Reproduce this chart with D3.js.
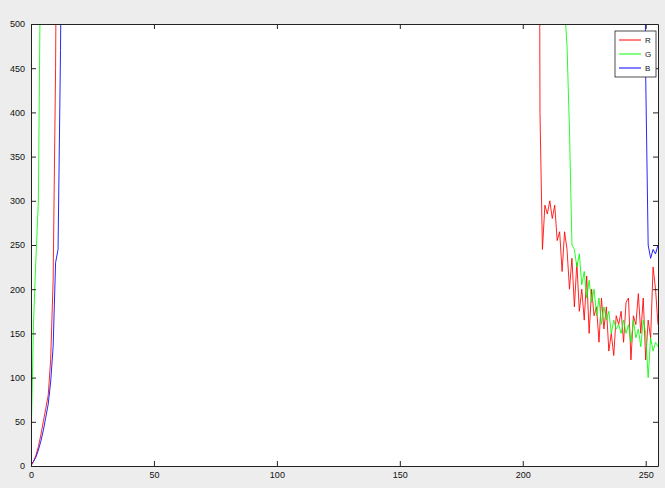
<!DOCTYPE html>
<html>
<head>
<meta charset="utf-8">
<script src="https://cdn.jsdelivr.net/npm/d3@7"></script>
<style>
  html, body { margin: 0; padding: 0; background: #ededed; }
  svg { display: block; }
  text { font-family: "Liberation Sans", Arial, sans-serif; }
</style>
</head>
<body>
<svg id="chart" width="665" height="488"></svg>
<script>
// Per-channel histogram counts (intensity bin -> pixel count).
// Only the low and high ends fall inside the 0-500 window; the middle bins
// are far above the top of the axis and are clipped away.
const binsR = [0,1,2,3,4,5,6,7,8,9,10,11,
  206,207,208,209,210,211,212,213,214,215,216,217,218,219,220,221,222,223,224,225,
  226,227,228,229,230,231,232,233,234,235,236,237,238,239,240,241,242,243,244,245,
  246,247,248,249,250,251,252,253,254,255];
const countsR = [0,5,12,22,35,50,65,80,120,210,450,900,
  1500,400,245,295,285,300,280,295,255,265,220,265,245,200,235,180,230,175,200,165,
  215,150,200,170,180,140,190,155,180,130,150,125,170,160,175,140,185,190,120,170,
  160,195,150,190,120,165,145,225,200,160];

const binsG = [0,1,2,3,4,
  217,218,219,220,221,222,223,224,225,226,227,228,229,230,231,232,233,234,235,236,
  237,238,239,240,241,242,243,244,245,246,247,248,249,250,251,252,253,254,255];
const countsG = [20,160,235,300,620,
  520,475,380,250,245,225,240,205,220,190,210,185,200,170,190,160,180,165,175,150,
  165,155,160,150,165,150,160,140,165,145,155,135,165,150,100,145,130,140,135];

const binsB = [0,1,2,3,4,5,6,7,8,9,10,11,12,13,
  249,250,251,252,253,254,255];
const countsB = [2,5,10,18,28,40,55,70,95,135,230,245,470,800,
  900,440,250,235,245,240,250];

const seriesNames = ["R", "G", "B"];
const seriesColors = ["#ff0000", "#00ff00", "#0000ff"];
const xTicks = [0, 50, 100, 150, 200, 250];
const yTicks = [0, 50, 100, 150, 200, 250, 300, 350, 400, 450, 500];

const svg = d3.select("#chart");
const plotLeft = 31, plotRight = 658, plotTop = 24, plotBottom = 466;

const x = d3.scaleLinear().domain([0, 255]).range([plotLeft, plotRight]);
const y = d3.scaleLinear().domain([0, 500]).range([plotBottom, plotTop]);

// plot area
svg.append("rect")
  .attr("x", plotLeft).attr("y", plotTop)
  .attr("width", plotRight - plotLeft).attr("height", plotBottom - plotTop)
  .attr("fill", "#ffffff");

svg.append("clipPath").attr("id", "plotClip")
  .append("rect")
  .attr("x", plotLeft).attr("y", plotTop)
  .attr("width", plotRight - plotLeft).attr("height", plotBottom - plotTop);

const line = d3.line().x(d => x(d[0])).y(d => y(d[1]));
const series = [
  d3.zip(binsR, countsR),
  d3.zip(binsG, countsG),
  d3.zip(binsB, countsB)
];

const plot = svg.append("g").attr("clip-path", "url(#plotClip)");
series.forEach((pts, i) => {
  plot.append("path")
    .datum(pts)
    .attr("fill", "none")
    .attr("stroke", seriesColors[i])
    .attr("stroke-width", 1)
    .attr("stroke-opacity", 0.85)
    .attr("d", line);
});

// axes with inward ticks on all four sides (boxed)
const tickLen = 5;
const axisColor = "#222";
const fontSize = 9;

const xb = svg.append("g").attr("transform", `translate(0,${plotBottom})`)
  .call(d3.axisBottom(x).tickValues(xTicks).tickSizeInner(-tickLen).tickSizeOuter(0).tickPadding(6));
const xt = svg.append("g").attr("transform", `translate(0,${plotTop})`)
  .call(d3.axisTop(x).tickValues(xTicks).tickSizeInner(-tickLen).tickSizeOuter(0).tickFormat(""));
const yl = svg.append("g").attr("transform", `translate(${plotLeft},0)`)
  .call(d3.axisLeft(y).tickValues(yTicks).tickSizeInner(-tickLen).tickSizeOuter(0).tickPadding(6));
const yr = svg.append("g").attr("transform", `translate(${plotRight},0)`)
  .call(d3.axisRight(y).tickValues(yTicks).tickSizeInner(-tickLen).tickSizeOuter(0).tickFormat(""));

[xb, xt, yl, yr].forEach(g => {
  g.select(".domain").attr("stroke", axisColor).attr("stroke-width", 1);
  g.selectAll(".tick line").attr("stroke", axisColor);
  g.selectAll("text").attr("fill", "#111").style("font-size", fontSize + "px")
    .style("font-family", '"Liberation Sans", Arial, sans-serif');
});
xb.selectAll("text").attr("dy", "0.71em");

// legend
const lg = svg.append("g").attr("transform", "translate(615,31)");
lg.append("rect").attr("width", 41).attr("height", 46)
  .attr("fill", "#ffffff").attr("stroke", axisColor).attr("stroke-width", 0.8);
seriesNames.forEach((name, i) => {
  const yy = 9 + i * 14;
  lg.append("line").attr("x1", 4).attr("x2", 26).attr("y1", yy).attr("y2", yy)
    .attr("stroke", seriesColors[i]).attr("stroke-width", 1);
  lg.append("text").attr("x", 30).attr("y", yy).attr("dy", "0.35em")
    .style("font-size", "8px").attr("fill", "#111").text(name);
});
</script>
</body>
</html>
